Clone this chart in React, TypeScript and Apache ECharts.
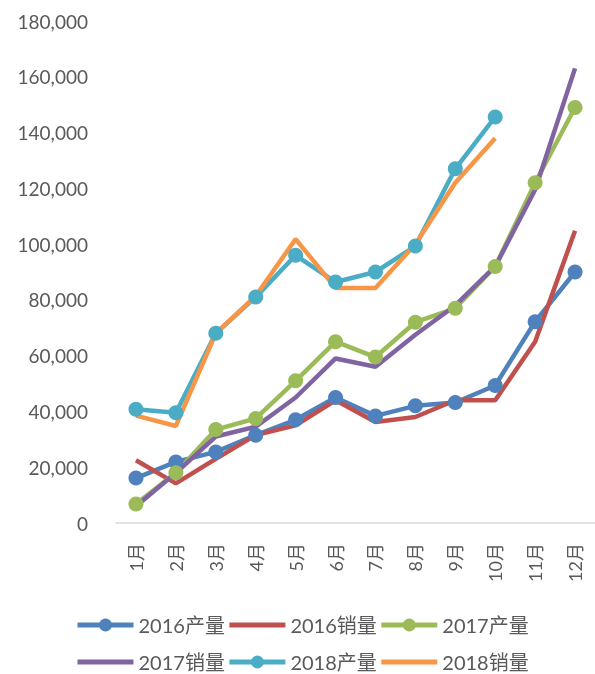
import React, { useEffect, useRef } from "react";
import * as echarts from "echarts";

const months = ["1月", "2月", "3月", "4月", "5月", "6月", "7月", "8月", "9月", "10月", "11月", "12月"];
const prod2016 = [16100, 21900, 25500, 31500, 37000, 45000, 38400, 42000, 43200, 49300, 72200, 90000];
const sales2016 = [22500, 14200, 23000, 31500, 35000, 44000, 36200, 38000, 44000, 44000, 65000, 104800];
const prod2017 = [6800, 18000, 33500, 37500, 51000, 65000, 59500, 72000, 77000, 92000, 122000, 149000];
const sales2017 = [6000, 18000, 31000, 34500, 45000, 59000, 56000, 67500, 78000, 92000, 119500, 163000];
const prod2018 = [40800, 39500, 68000, 81000, 96000, 86400, 90000, 99300, 127000, 145600];
const sales2018 = [38500, 34800, 68000, 81400, 101800, 84300, 84300, 100000, 122000, 138000];
const seriesNames = ["2016产量", "2016销量", "2017产量", "2017销量", "2018产量", "2018销量"];
const colors = ["#4F81BD", "#C0504D", "#9BBB59", "#8064A2", "#4BACC6", "#F79646"];

const FONT = "Lato, 'Noto Sans CJK SC', sans-serif";

export default function App() {
  const ref = useRef<HTMLDivElement>(null);
  useEffect(() => {
    if (!ref.current) return;
    const chart = echarts.init(ref.current, undefined, { renderer: "svg" });
    const datasets = [prod2016, sales2016, prod2017, sales2017, prod2018, sales2018];
    const withMarkers = [true, false, true, false, true, false];
    const legendItems = seriesNames.map((n, i) => ({
      name: n,
      itemStyle: withMarkers[i] ? {} : { opacity: 0 },
    }));
    const legendBase = {
      left: 75,
      padding: 0,
      itemWidth: 56,
      itemHeight: 16,
      itemGap: 2,
      lineStyle: { width: 5 },
      textStyle: { fontFamily: FONT, fontSize: 20, lineHeight: 22, color: "#595959" },
    };
    chart.setOption({
      animation: false,
      color: colors,
      grid: { left: 116, right: -2, top: 21, bottom: 674 - 523 },
      legend: [
        { ...legendBase, top: 614, data: legendItems.slice(0, 3) },
        { ...legendBase, top: 651, data: legendItems.slice(3, 6) },
      ],
      xAxis: {
        type: "category",
        data: months,
        boundaryGap: true,
        axisLine: { lineStyle: { color: "#D9D9D9", width: 1.5 } },
        axisTick: { show: false },
        axisLabel: { rotate: 90, fontFamily: FONT, fontSize: 18, color: "#595959", margin: 20 },
      },
      yAxis: {
        type: "value",
        min: 0,
        max: 180000,
        interval: 20000,
        splitLine: { show: false },
        axisLine: { show: false },
        axisTick: { show: false },
        axisLabel: {
          fontFamily: FONT,
          fontSize: 19,
          color: "#595959",
          margin: 28,
          formatter: (v: number) => v.toLocaleString("en-US"),
        },
      },
      series: datasets.map((d, i) => ({
        name: seriesNames[i],
        type: "line",
        data: d,
        symbol: withMarkers[i] ? "circle" : "none",
        symbolSize: 15,
        showSymbol: withMarkers[i],
        lineStyle: { width: 4.5, color: colors[i] },
        itemStyle: { color: colors[i] },
      })),
    });
    return () => chart.dispose();
  }, []);
  return <div ref={ref} style={{ position: "fixed", left: 0, top: 0, width: 595, height: 674 }} />;
}
